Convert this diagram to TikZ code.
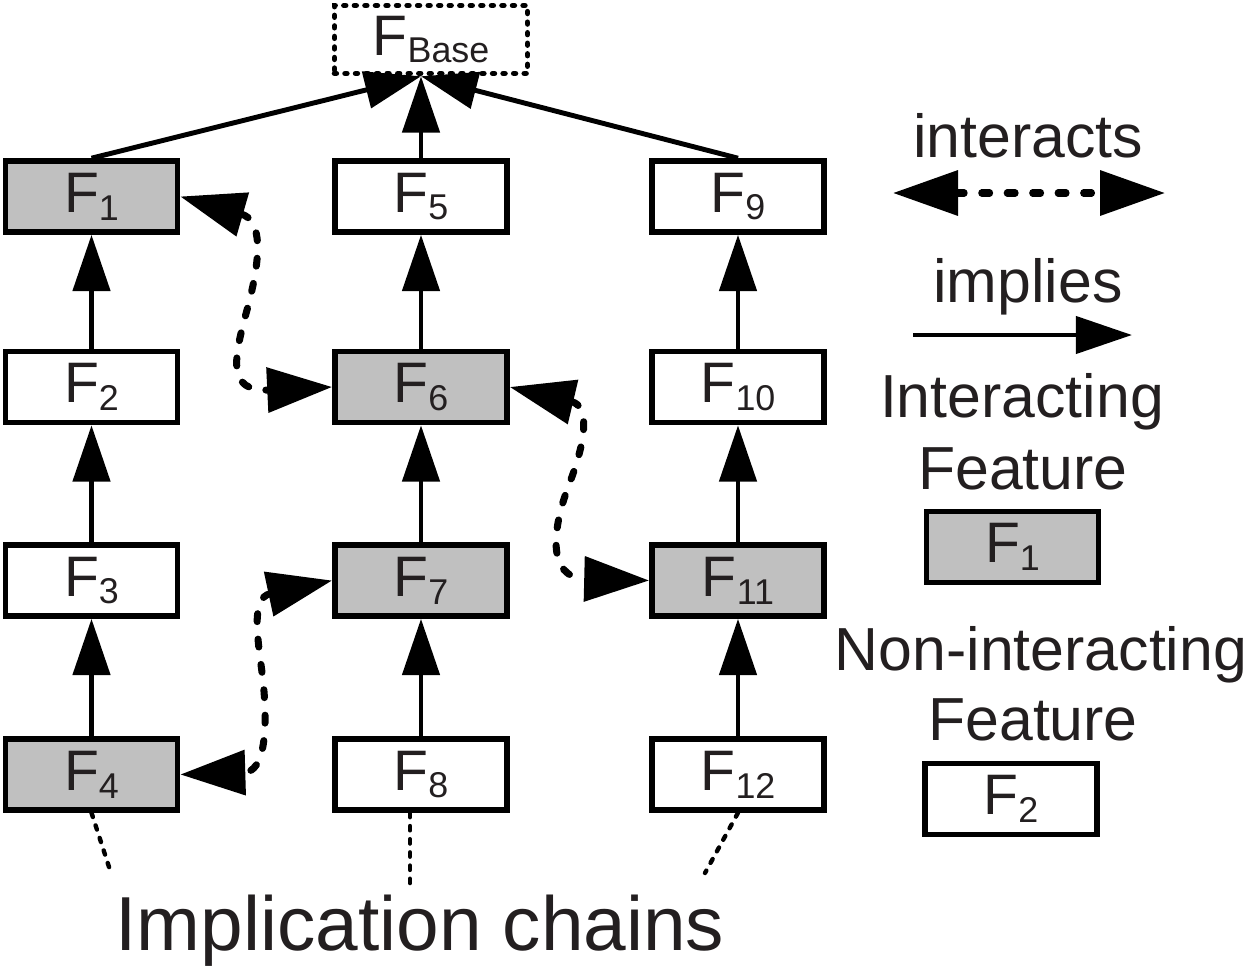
\documentclass[tikz,border=0pt]{standalone}
\usepackage{fontspec}
\setmainfont{Liberation Sans}
\usetikzlibrary{arrows.meta,calc}
\definecolor{featgray}{HTML}{C0C0C0}
\definecolor{txt}{HTML}{231F20}
\newcommand{\fsub}[1]{\raisebox{-4.5pt}{\fontsize{20.4}{20}\selectfont #1}}
\newcommand{\boxfont}{\fontsize{32.5}{34}\selectfont}
\newcommand{\legfont}{\fontsize{34.6}{36}\selectfont}
\newcommand{\bigfont}{\fontsize{43.6}{46}\selectfont}
\tikzset{
  feat/.style={draw=black, line width=3.2pt, minimum width=3.44cm, minimum height=1.42cm,
    inner sep=0pt, font=\boxfont, text=txt},
  inter/.style={feat, fill=featgray},
  basebox/.style={draw=black, line width=3.2pt, dash pattern=on 1pt off 5pt, line cap=round,
    minimum width=3.86cm, minimum height=1.36cm, inner sep=0pt, font=\boxfont, text=txt},
  impl/.style={line width=2.8pt, -{Triangle[length=32pt,width=21pt]}},
  interact/.style={line width=4pt, dash pattern=on 4.5pt off 10pt, line cap=round,
    {Triangle[length=37pt,width=25pt]}-{Triangle[length=37pt,width=25pt]}},
  chain/.style={line width=2.5pt, dash pattern=on 2.5pt off 5pt, line cap=round},
  legend/.style={font=\legfont, text=txt, anchor=base, inner sep=0pt}
}
\begin{document}
\begin{tikzpicture}[x=0.02cm,y=-0.02cm]
\useasboundingbox (0,0) rectangle (1248,967);

% base
\node[basebox] (Base) at (431,39.5) {F\fsub{Base}};

% column 1
\node[inter] (F1) at (91.5,196.5) {F\fsub{1}};
\node[feat]  (F2) at (91.5,387) {F\fsub{2}};
\node[feat]  (F3) at (91.5,580.5) {F\fsub{3}};
\node[inter] (F4) at (91.5,774.5) {F\fsub{4}};
% column 2
\node[feat]  (F5) at (421,196.5) {F\fsub{5}};
\node[inter] (F6) at (421,387) {F\fsub{6}};
\node[inter] (F7) at (421,580.5) {F\fsub{7}};
\node[feat]  (F8) at (421,774.5) {F\fsub{8}};
% column 3
\node[feat]  (F9) at (738,196.5) {F\fsub{9}};
\node[feat]  (F10) at (738,387) {F\fsub{10}};
\node[inter] (F11) at (738,580.5) {F\fsub{11}};
\node[feat]  (F12) at (738,774.5) {F\fsub{12}};

% implication chains
\foreach \a/\b in {F2/F1,F3/F2,F4/F3,F6/F5,F7/F6,F8/F7,F10/F9,F11/F10,F12/F11}
  \draw[impl] (\a.north) -- (\b.south);

\coordinate (btip) at (F5 |- Base.south);
\draw[impl] (F1.north) -- (btip);
\draw[impl] (F5.north) -- (btip);
\draw[impl] (F9.north) -- (btip);

% interactions
\draw[interact] (F1.east) .. controls (262,220) and (262,255) .. (247,310)
   .. controls (234,358) and (226,392) .. (F6.west);
\draw[interact] (F6.east) .. controls (590,406) and (586,440) .. (570,482)
   .. controls (552,528) and (546,578) .. (F11.west);
\draw[interact] (F7.west) .. controls (250,598) and (258,640) .. (263,680)
   .. controls (268,730) and (265,772) .. (F4.east);

% legend
\node[legend] (tInter) at (1028,157) {interacts};
\coordinate (il) at (893,193);
\coordinate (ir) at (1165,193);
\draw[interact] (il) -- (ir);
\node[legend] (tImpl) at (1028,302) {implies};
\coordinate (pl) at (913,335);
\coordinate (pr) at (1132,335);
\draw[impl] (pl) -- (pr);
\node[legend] (tIF1) at (1022,417) {Interacting};
\node[legend] (tIF2) at (1023,489) {Feature};
\node[inter] (L1) at (1012.5,547) {F\fsub{1}};
\node[legend] (tNF1) at (1041,670) {Non-interacting};
\node[legend] (tNF2) at (1033,740) {Feature};
\node[feat] (L2) at (1011,799) {F\fsub{2}};

% implication chain label
\node[font=\bigfont, text=txt, anchor=base, inner sep=0pt] (lab) at (420,950) {Implication chains};
\coordinate (c1) at (110,870);
\coordinate (c2) at (410,888);
\coordinate (c3) at (705,873);
\draw[chain] (F4.south) -- (c1);
\draw[chain] ($(F8.south)+(-11,0)$) -- (c2);
\draw[chain] (F12.south) -- (c3);
\end{tikzpicture}
\end{document}
